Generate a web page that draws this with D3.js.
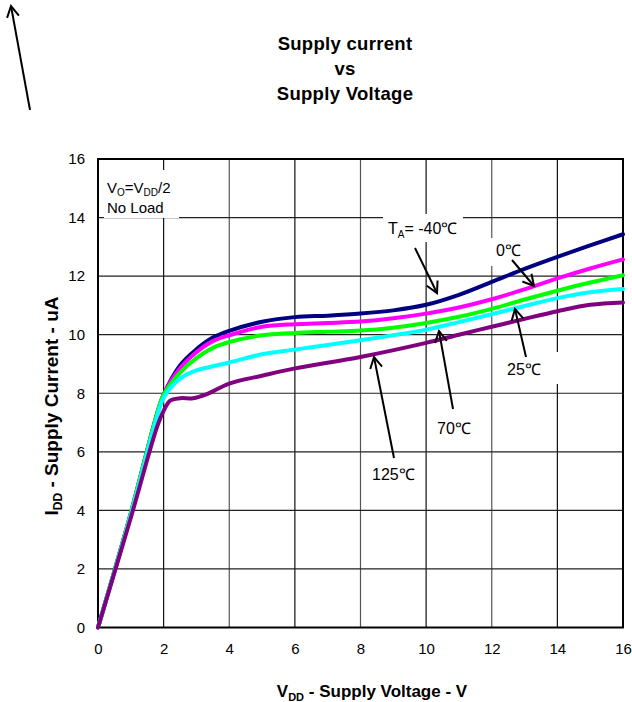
<!DOCTYPE html>
<html>
<head>
<meta charset="utf-8">
<script src="https://cdn.jsdelivr.net/npm/d3@7/dist/d3.min.js"></script>
<style>
html,body{margin:0;padding:0;background:#fff;}
svg{display:block;font-family:"Liberation Sans",Arial,sans-serif;}
</style>
</head>
<body>
<svg id="chart" width="632" height="702"></svg>
<script>
// ---- data ----
const voltages = [0, 1, 1.8, 2, 2.5, 3, 3.5, 4, 5, 6, 7, 8, 9, 10, 11, 12, 13, 14, 15, 16];
const seriesNames = ["-40℃", "0℃", "25℃", "70℃", "125℃"];
const currentM40 = [0, 3.9, 7.3, 7.95, 8.95, 9.5, 9.9, 10.13, 10.44, 10.6, 10.65, 10.72, 10.83, 11.02, 11.36, 11.8, 12.25, 12.66, 13.05, 13.43];
const current0   = [0, 3.9, 7.3, 7.95, 8.85, 9.4, 9.78, 9.98, 10.27, 10.36, 10.4, 10.45, 10.56, 10.72, 10.93, 11.21, 11.55, 11.92, 12.26, 12.57];
const current25  = [0, 3.9, 7.3, 7.95, 8.7, 9.2, 9.55, 9.75, 9.98, 10.06, 10.1, 10.14, 10.24, 10.4, 10.61, 10.88, 11.2, 11.5, 11.78, 12.03];
const current70  = [0, 3.85, 7.2, 7.85, 8.5, 8.78, 8.92, 9.05, 9.33, 9.49, 9.65, 9.81, 9.98, 10.17, 10.43, 10.7, 10.98, 11.25, 11.45, 11.56];
const volt125    = [0, 1, 1.8, 2, 2.2, 2.5, 2.9, 3.3, 4, 5, 6, 8, 10, 11, 12, 13, 14, 15, 16];
const current125 = [0, 3.75, 6.85, 7.4, 7.75, 7.83, 7.83, 7.96, 8.33, 8.6, 8.85, 9.24, 9.72, 10.0, 10.27, 10.54, 10.8, 11.02, 11.1];
const xTicks = [0, 2, 4, 6, 8, 10, 12, 14, 16];
const yTicks = [0, 2, 4, 6, 8, 10, 12, 14, 16];
const colors = ["#000080", "#ff00ff", "#00ff00", "#00ffff", "#800080"];

const svg = d3.select("#chart");
const x = d3.scaleLinear().domain([0, 16]).range([98, 623]);
const y = d3.scaleLinear().domain([0, 16]).range([627.5, 159]);

// markers
const defs = svg.append("defs");
defs.append("marker").attr("id", "ah").attr("viewBox", "-13 -8 15 16")
  .attr("refX", 0).attr("refY", 0).attr("markerWidth", 15).attr("markerHeight", 16)
  .attr("markerUnits", "userSpaceOnUse").attr("orient", "auto")
  .append("path").attr("d", "M-11,-6 L0,0 L-11,6").attr("fill", "none")
  .attr("stroke", "#000").attr("stroke-width", 2);

// title
const title = svg.append("g").attr("font-weight", "bold").attr("font-size", 18.5)
  .attr("text-anchor", "middle").attr("letter-spacing", "0.3px");
title.append("text").attr("x", 345).attr("y", 50).text("Supply current");
title.append("text").attr("x", 345).attr("y", 75).text("vs");
title.append("text").attr("x", 345).attr("y", 100).text("Supply Voltage");

// top-left arrow
svg.append("line").attr("x1", 30).attr("y1", 110).attr("x2", 11).attr("y2", 6)
  .attr("stroke", "#000").attr("stroke-width", 2).attr("marker-end", "url(#ah)");

// grid
const grid = svg.append("g");
grid.selectAll(".vg").data(xTicks.slice(1, -1)).enter().append("line")
  .attr("x1", d => x(d)).attr("x2", d => x(d)).attr("y1", y(16)).attr("y2", y(0))
  .attr("stroke", (d, i) => i % 2 ? "#555" : "#111").attr("stroke-width", 1.2);
grid.selectAll(".hg").data(yTicks.slice(1, -1)).enter().append("line")
  .attr("y1", d => y(d)).attr("y2", d => y(d)).attr("x1", x(0)).attr("x2", x(16))
  .attr("stroke", "#222").attr("stroke-width", 1.2);

// axes labels via d3 axes
const xAxis = svg.append("g").attr("transform", `translate(0,${y(0)})`)
  .call(d3.axisBottom(x).tickValues(xTicks).tickSize(0).tickPadding(16).tickFormat(d3.format("d")));
const yAxis = svg.append("g").attr("transform", `translate(${x(0)},0)`)
  .call(d3.axisLeft(y).tickValues(yTicks).tickSize(0).tickPadding(13).tickFormat(d3.format("d")));
[xAxis, yAxis].forEach(a => {
  a.select(".domain").remove();
  a.selectAll("text").attr("font-size", 15).attr("font-family", "Liberation Sans, Arial, sans-serif").attr("fill", "#000");
});

// white label boxes (drawn over grid)
const boxes = [
  [104, 170, 75, 48],
  [383, 214, 80, 28],
  [487, 238, 40, 28],
  [500, 352, 58, 32]
];
svg.selectAll(".box").data(boxes).enter().append("rect")
  .attr("x", d => d[0]).attr("y", d => d[1]).attr("width", d => d[2]).attr("height", d => d[3])
  .attr("fill", "#fff");

// plot border
svg.append("rect").attr("x", x(0)).attr("y", y(16)).attr("width", x(16) - x(0)).attr("height", y(0) - y(16))
  .attr("fill", "none").attr("stroke", "#000").attr("stroke-width", 2);

// curves
const line = d3.line().x(d => x(d[0])).y(d => y(d[1])).curve(d3.curveCatmullRom.alpha(0.5));
const allSeries = [
  voltages.map((v, i) => [v, currentM40[i]]),
  voltages.map((v, i) => [v, current0[i]]),
  voltages.map((v, i) => [v, current25[i]]),
  voltages.map((v, i) => [v, current70[i]]),
  volt125.map((v, i) => [v, current125[i]])
];
svg.append("g").selectAll("path").data(allSeries).enter().append("path")
  .attr("d", line).attr("fill", "none").attr("stroke", (d, i) => colors[i])
  .attr("stroke-width", 4).attr("stroke-linejoin", "round").attr("stroke-linecap", "round");

// annotation text
const ann = svg.append("g").attr("font-size", 15).attr("fill", "#000");
const t1 = ann.append("text").attr("x", 107).attr("y", 193);
t1.append("tspan").text("V");
t1.append("tspan").attr("font-size", 10).attr("dy", 3).text("O");
t1.append("tspan").attr("dy", -3).text("=V");
t1.append("tspan").attr("font-size", 10).attr("dy", 3).text("DD");
t1.append("tspan").attr("dy", -3).text("/2");
ann.append("text").attr("x", 107).attr("y", 213).text("No Load");

const t2 = ann.append("text").attr("x", 388).attr("y", 234).attr("font-size", 16);
t2.append("tspan").text("T");
t2.append("tspan").attr("font-size", 10).attr("dy", 4).text("A");
t2.append("tspan").attr("dy", -4).text("= -40℃");

ann.append("text").attr("x", 496).attr("y", 256).attr("font-size", 16).text("0℃");
ann.append("text").attr("x", 507).attr("y", 375).attr("font-size", 16).text("25℃");
ann.append("text").attr("x", 437).attr("y", 434).attr("font-size", 16).text("70℃");
ann.append("text").attr("x", 372).attr("y", 480).attr("font-size", 16).text("125℃");

// annotation arrows [x1,y1,x2,y2]
const arrows = [
  [415, 248, 437, 293],
  [512, 260, 534, 286],
  [526, 357, 515, 309],
  [453, 409, 439, 331],
  [394, 458, 374, 357]
];
svg.append("g").selectAll("line").data(arrows).enter().append("line")
  .attr("x1", d => d[0]).attr("y1", d => d[1]).attr("x2", d => d[2]).attr("y2", d => d[3])
  .attr("stroke", "#000").attr("stroke-width", 2).attr("marker-end", "url(#ah)");

// axis titles
const xt = svg.append("text").attr("x", 372).attr("y", 697).attr("text-anchor", "middle")
  .attr("font-size", 17).attr("font-weight", "bold");
xt.append("tspan").text("V");
xt.append("tspan").attr("font-size", 11).attr("dy", 4).text("DD");
xt.append("tspan").attr("dy", -4).text(" - Supply Voltage - V");

const yt = svg.append("text").attr("transform", "translate(58,406) rotate(-90)").attr("text-anchor", "middle")
  .attr("font-size", 19).attr("font-weight", "bold");
yt.append("tspan").text("I");
yt.append("tspan").attr("font-size", 12).attr("dy", 4).text("DD");
yt.append("tspan").attr("dy", -4).text(" - Supply Current - uA");
</script>
</body>
</html>
